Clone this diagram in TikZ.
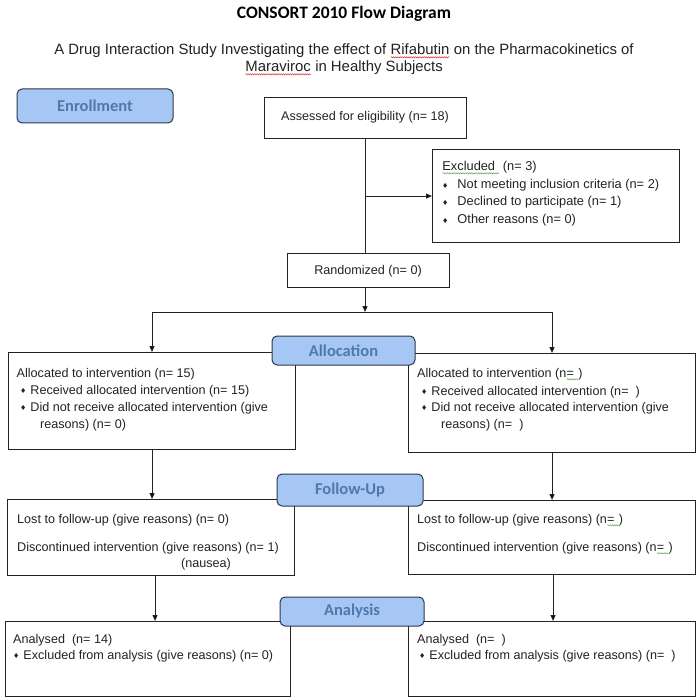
\documentclass[tikz,border=0pt]{standalone}
\usepackage{fontspec}
\setmainfont{Liberation Sans}
\newfontfamily\carl{Carlito}
\newfontfamily\djv{DejaVu Sans}
\usetikzlibrary{arrows.meta,decorations.pathmorphing}
\definecolor{lblfill}{RGB}{166,199,243}
\definecolor{lbltext}{RGB}{80,120,172}
\definecolor{lbldraw}{RGB}{45,55,75}
\definecolor{ink}{RGB}{35,35,35}
\definecolor{sqred}{RGB}{215,50,50}
\definecolor{sqgreen}{RGB}{100,170,80}
\newcommand{\bul}{{\djv\fontsize{7}{7}\selectfont\raisebox{0.4pt}{♦}}}
\newcommand{\wavy}[2]{\tikz[baseline=(wv.base)]{\node[inner sep=0pt,outer sep=0pt,anchor=base](wv){#2};\draw[#1,line width=0.5pt,decorate,decoration={snake,amplitude=0.6pt,segment length=2.2pt}]([yshift=-2.3pt]wv.base west)--([yshift=-2.3pt]wv.base east);}}
\begin{document}
\begin{tikzpicture}[x=1pt,y=-1pt,
  boxn/.style={draw=ink,line width=1.1pt,fill=white,inner sep=0pt,anchor=north west},
  lbl/.style={draw=lbldraw,fill=lblfill,rounded corners=5pt,line width=1pt,text=lbltext,
    font=\carl\bfseries\fontsize{16.5}{18}\selectfont,inner sep=0pt,anchor=center},
  txt/.style={inner sep=0pt,anchor=base west,text=ink,font=\fontsize{12.6}{15}\selectfont},
  arr/.style={draw=ink,line width=1pt,-{Triangle[length=6pt,width=5pt]}},
  ln/.style={draw=ink,line width=1pt}]
\fill[white] (0,0) rectangle (700,700);
\useasboundingbox (0,0) rectangle (700,700);

% title
\node[inner sep=0pt,anchor=base,text=black,font=\carl\bfseries\fontsize{17.5}{20}\selectfont] (title) at (344,18.5) {CONSORT 2010 Flow Diagram};
\node[inner sep=0pt,anchor=base,text=ink,font=\fontsize{14.9}{17}\selectfont] (sub1) at (344,55) {A Drug Interaction Study Investigating the effect of \wavy{sqred}{Rifabutin} on the Pharmacokinetics of};
\node[inner sep=0pt,anchor=base,text=ink,font=\fontsize{14.9}{17}\selectfont] (sub2) at (344,72) {\wavy{sqred}{Maraviroc} in Healthy Subjects};

% boxes
\node[boxn,minimum width=202pt,minimum height=41pt] (assess) at (264,97) {};
\node[boxn,minimum width=247pt,minimum height=93pt] (excl) at (432,149) {};
\node[boxn,minimum width=162pt,minimum height=34pt] (rand) at (287,253) {};
\node[boxn,minimum width=287pt,minimum height=97pt] (allocL) at (8,352) {};
\node[boxn,minimum width=287pt,minimum height=99pt] (allocR) at (408,353) {};
\node[boxn,minimum width=287pt,minimum height=76pt] (fuL) at (7,499) {};
\node[boxn,minimum width=287pt,minimum height=74pt] (fuR) at (408,500) {};
\node[boxn,minimum width=285pt,minimum height=75pt] (anL) at (5,621) {};
\node[boxn,minimum width=287pt,minimum height=75pt] (anR) at (408,621) {};

% connectors
\draw[ln] (assess.south) -- (assess.south |- rand.north);
\draw[arr] (assess.south |- excl.west) -- (excl.west);
\coordinate (split) at (365,312);
\coordinate (sl) at (152,312);
\coordinate (sr) at (552,312);
\draw[arr] (split |- rand.south) -- (split);
\draw[ln] (sl) -- (sr);
\draw[arr] (sl) -- (sl |- allocL.north);
\draw[arr] (sr) -- (sr |- allocR.north);
\draw[arr] (allocL.south) -- (allocL.south |- fuL.north);
\draw[arr] (allocR.south) -- (allocR.south |- fuR.north);
\draw[arr] ([xshift=4pt]fuL.south) -- ([xshift=4pt]fuL.south |- anL.north);
\draw[arr] ([xshift=1pt]fuR.south) -- ([xshift=1pt]fuR.south |- anR.north);

% texts
\node[txt,anchor=base] (assesst) at (365,121) {Assessed for eligibility (n= 18)};
\node[txt,font=\fontsize{12.8}{15}\selectfont] (ex1) at (442,171) {\wavy{sqgreen}{Excluded\kern4pt}\ (n= 3)};
\node[txt,font=\fontsize{12.8}{15}\selectfont] (ex2) at (442,189) {\bul\hspace{9pt}Not meeting inclusion criteria (n= 2)};
\node[txt,font=\fontsize{12.8}{15}\selectfont] (ex3) at (442,206) {\bul\hspace{9pt}Declined to participate (n= 1)};
\node[txt,font=\fontsize{12.8}{15}\selectfont] (ex4) at (442,224) {\bul\hspace{9pt}Other reasons (n= 0)};
\node[txt,anchor=base] (randt) at (368,274) {Randomized (n= 0)};

\node[txt] (aL1) at (16.5,377) {Allocated to intervention (n= 15)};
\node[txt] (aL2) at (20,394) {\bul\hspace{4pt}Received allocated intervention (n= 15)};
\node[txt] (aL3) at (20,411) {\bul\hspace{4pt}Did not receive allocated intervention (give};
\node[txt] (aL4) at (40,428) {reasons) (n= 0)};

\node[txt] (aR1) at (417,377) {Allocated to intervention (n\wavy{sqgreen}{=\kern4pt})};
\node[txt] (aR2) at (421,395) {\bul\hspace{4pt}Received allocated intervention (n=\ \ )};
\node[txt] (aR3) at (421,411) {\bul\hspace{4pt}Did not receive allocated intervention (give};
\node[txt] (aR4) at (441,428) {reasons) (n=\ \ )};

\node[txt] (fL1) at (17,523) {Lost to follow-up (give reasons) (n= 0)};
\node[txt] (fL2) at (17,551) {Discontinued intervention (give reasons) (n= 1)};
\node[txt] (fL3) at (181,567) {(nausea)};

\node[txt] (fR1) at (417,523) {Lost to follow-up (give reasons) (n\wavy{sqgreen}{=\kern4pt})};
\node[txt] (fR2) at (417,551) {Discontinued intervention (give reasons) (n\wavy{sqgreen}{=\kern4pt})};

\node[txt] (nL1) at (13,643) {Analysed\ \ (n= 14)};
\node[txt] (nL2) at (13,659) {\bul\hspace{4pt}Excluded from analysis (give reasons) (n= 0)};
\node[txt] (nR1) at (417,643) {Analysed\ \ (n=\ \ )};
\node[txt] (nR2) at (419,659) {\bul\hspace{4pt}Excluded from analysis (give reasons) (n=\ \ )};

% stage labels
\node[lbl,minimum width=156pt,minimum height=34pt] (enroll) at (95,106) {Enrollment};
\node[lbl,minimum width=143pt,minimum height=29pt] (alloc) at (343.5,350.5) {Allocation};
\node[lbl,minimum width=146pt,minimum height=32pt] (follow) at (350,490) {Follow-Up};
\node[lbl,minimum width=144pt,minimum height=29pt] (analysis) at (352,611.5) {Analysis};
\end{tikzpicture}
\end{document}
